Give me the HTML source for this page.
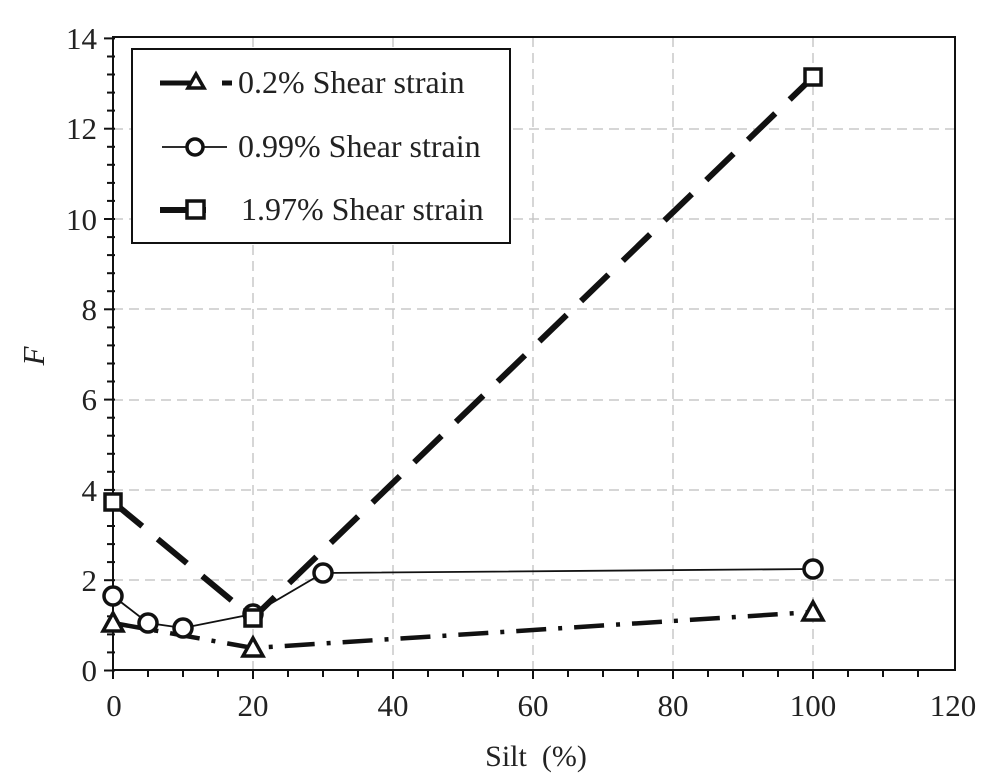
<!DOCTYPE html>
<html><head><style>body{margin:0;background:#fff}svg{display:block}</style></head><body>
<svg width="985" height="783" xmlns="http://www.w3.org/2000/svg" font-family="Liberation Serif, serif" fill="#222">
<g stroke="#c8c8c8" stroke-width="1.5" stroke-dasharray="10,6">
<line x1="253" y1="37" x2="253" y2="670"/><line x1="393" y1="37" x2="393" y2="670"/><line x1="533" y1="37" x2="533" y2="670"/><line x1="673" y1="37" x2="673" y2="670"/><line x1="813" y1="37" x2="813" y2="670"/>
<line x1="113" y1="580" x2="955" y2="580"/><line x1="113" y1="490" x2="955" y2="490"/><line x1="113" y1="400" x2="955" y2="400"/><line x1="113" y1="309" x2="955" y2="309"/><line x1="113" y1="219" x2="955" y2="219"/><line x1="113" y1="129" x2="955" y2="129"/>
</g>
<rect x="113" y="37" width="842" height="633" fill="none" stroke="#111" stroke-width="2"/>
<g stroke="#111" stroke-width="2">
<line x1="113" y1="670" x2="113" y2="679"/><line x1="148" y1="670" x2="148" y2="677"/><line x1="183" y1="670" x2="183" y2="677"/><line x1="218" y1="670" x2="218" y2="677"/><line x1="253" y1="670" x2="253" y2="679"/><line x1="288" y1="670" x2="288" y2="677"/><line x1="323" y1="670" x2="323" y2="677"/><line x1="358" y1="670" x2="358" y2="677"/><line x1="393" y1="670" x2="393" y2="679"/><line x1="428" y1="670" x2="428" y2="677"/><line x1="463" y1="670" x2="463" y2="677"/><line x1="498" y1="670" x2="498" y2="677"/><line x1="533" y1="670" x2="533" y2="679"/><line x1="568" y1="670" x2="568" y2="677"/><line x1="603" y1="670" x2="603" y2="677"/><line x1="638" y1="670" x2="638" y2="677"/><line x1="673" y1="670" x2="673" y2="679"/><line x1="708" y1="670" x2="708" y2="677"/><line x1="743" y1="670" x2="743" y2="677"/><line x1="778" y1="670" x2="778" y2="677"/><line x1="813" y1="670" x2="813" y2="679"/><line x1="848" y1="670" x2="848" y2="677"/><line x1="883" y1="670" x2="883" y2="677"/><line x1="918" y1="670" x2="918" y2="677"/>
</g>
<g stroke="#111" stroke-width="2">
<line x1="104" y1="670.5" x2="115" y2="670.5"/><line x1="107" y1="652.4" x2="115" y2="652.4"/><line x1="107" y1="634.4" x2="115" y2="634.4"/><line x1="107" y1="616.3" x2="115" y2="616.3"/><line x1="107" y1="598.3" x2="115" y2="598.3"/>
<line x1="104" y1="580.2" x2="115" y2="580.2"/><line x1="107" y1="562.1" x2="115" y2="562.1"/><line x1="107" y1="544.1" x2="115" y2="544.1"/><line x1="107" y1="526" x2="115" y2="526"/><line x1="107" y1="508" x2="115" y2="508"/>
<line x1="104" y1="489.9" x2="115" y2="489.9"/><line x1="107" y1="471.8" x2="115" y2="471.8"/><line x1="107" y1="453.8" x2="115" y2="453.8"/><line x1="107" y1="435.7" x2="115" y2="435.7"/><line x1="107" y1="417.7" x2="115" y2="417.7"/>
<line x1="104" y1="399.6" x2="115" y2="399.6"/><line x1="107" y1="381.5" x2="115" y2="381.5"/><line x1="107" y1="363.5" x2="115" y2="363.5"/><line x1="107" y1="345.4" x2="115" y2="345.4"/><line x1="107" y1="327.4" x2="115" y2="327.4"/>
<line x1="104" y1="309.3" x2="115" y2="309.3"/><line x1="107" y1="291.2" x2="115" y2="291.2"/><line x1="107" y1="273.2" x2="115" y2="273.2"/><line x1="107" y1="255.1" x2="115" y2="255.1"/><line x1="107" y1="237.1" x2="115" y2="237.1"/>
<line x1="104" y1="219" x2="115" y2="219"/><line x1="107" y1="200.9" x2="115" y2="200.9"/><line x1="107" y1="182.9" x2="115" y2="182.9"/><line x1="107" y1="164.8" x2="115" y2="164.8"/><line x1="107" y1="146.8" x2="115" y2="146.8"/>
<line x1="104" y1="128.7" x2="115" y2="128.7"/><line x1="107" y1="110.6" x2="115" y2="110.6"/><line x1="107" y1="92.6" x2="115" y2="92.6"/><line x1="107" y1="74.5" x2="115" y2="74.5"/><line x1="107" y1="56.5" x2="115" y2="56.5"/>
<line x1="104" y1="38.4" x2="115" y2="38.4"/>
</g>
<g font-size="31" text-anchor="end">
<text x="97" y="681">0</text><text x="97" y="591">2</text><text x="97" y="501">4</text><text x="97" y="410">6</text><text x="97" y="320">8</text><text x="97" y="230">10</text><text x="97" y="139">12</text><text x="97" y="49">14</text>
</g>
<g font-size="31" text-anchor="middle">
<text x="114" y="716">0</text><text x="253" y="716">20</text><text x="393" y="716">40</text><text x="533" y="716">60</text><text x="673" y="716">80</text><text x="813" y="716">100</text><text x="953" y="716">120</text>
<text x="536" y="766" font-size="30" xml:space="preserve">Silt  (%)</text>
</g>
<text x="44" y="356" font-size="31" font-style="italic" text-anchor="middle" transform="rotate(-90 44 356)">F</text>
<polyline points="113,623 253,648 813,612" fill="none" stroke="#111" stroke-width="4.5" stroke-dasharray="30,12,4,12"/>
<polyline points="113,596 148,623 183,628 253,614 323,573 813,569" fill="none" stroke="#111" stroke-width="1.8"/>
<polyline points="113,502 253,618 813,77" fill="none" stroke="#111" stroke-width="6" stroke-dasharray="38,20"/>
<g fill="#fff" stroke="#111" stroke-width="3.5">
<polygon points="113,613 103,631 123,631"/><polygon points="253,638 243,656 263,656"/><polygon points="813,602 803,620 823,620"/>
<circle cx="113" cy="596" r="9"/><circle cx="148" cy="623" r="9"/><circle cx="183" cy="628" r="9"/><circle cx="253" cy="614" r="9"/><circle cx="323" cy="573" r="9"/><circle cx="813" cy="569" r="9"/>
<rect x="105" y="494" width="16" height="16"/><rect x="245" y="610" width="16" height="16"/><rect x="805" y="69" width="16" height="16"/>
</g>
<rect x="132" y="49" width="378" height="194" fill="#fff" stroke="#111" stroke-width="2"/>
<g stroke="#111" fill="#fff">
<line x1="160" y1="83" x2="190" y2="83" stroke-width="5"/><line x1="222" y1="83" x2="232" y2="83" stroke-width="5"/>
<polygon points="196,74 188,88 204,88" stroke-width="3.5"/>
<line x1="162" y1="147" x2="227" y2="147" stroke-width="1.8"/><circle cx="195" cy="147" r="8" stroke-width="3.5"/>
<line x1="160" y1="210" x2="206" y2="210" stroke-width="6"/><rect x="187" y="201" width="17" height="17" stroke-width="3.5"/>
</g>
<g font-size="32">
<text x="238" y="93">0.2% Shear strain</text>
<text x="238" y="157">0.99% Shear strain</text>
<text x="241" y="220">1.97% Shear strain</text>
</g>
</svg>
</body></html>
